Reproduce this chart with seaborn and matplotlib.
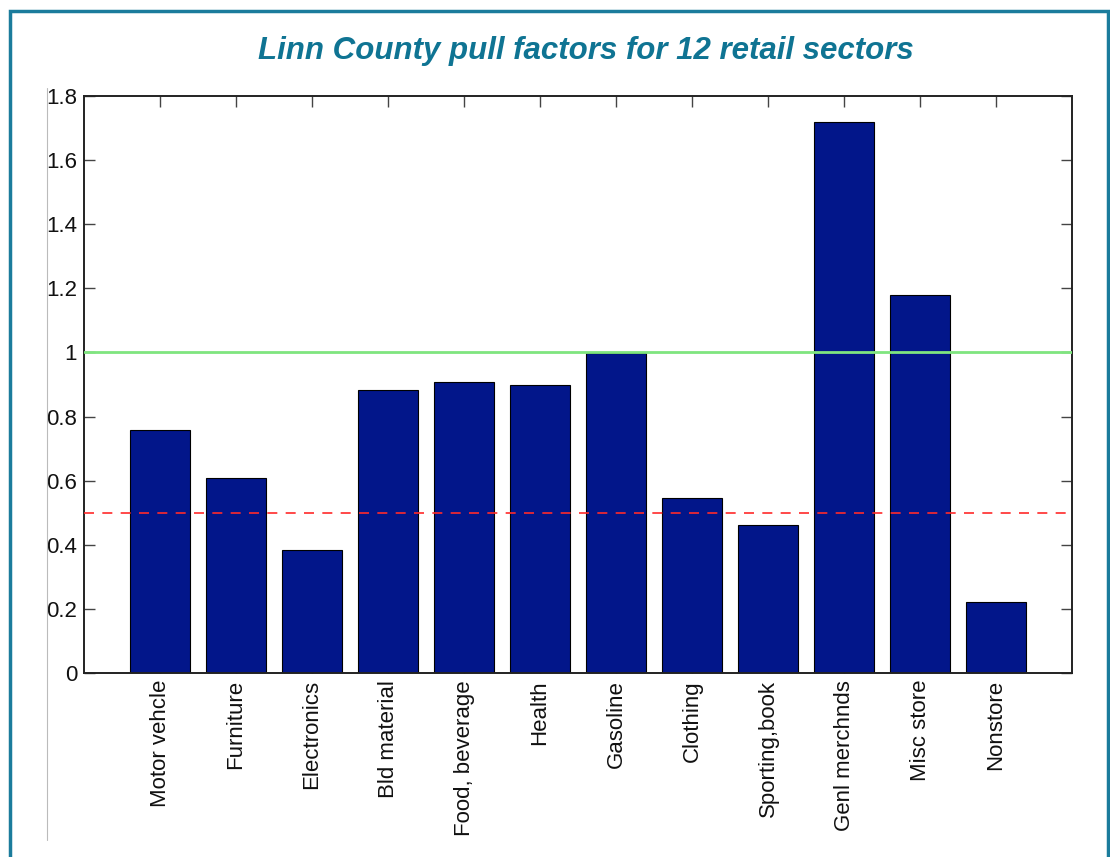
import matplotlib
matplotlib.use("Agg")
import matplotlib.pyplot as plt
import seaborn as sns
import pandas as pd
from matplotlib.patches import Rectangle
from matplotlib.lines import Line2D
from matplotlib import font_manager

# Data
sectors = ["Motor vehcle", "Furniture", "Electronics", "Bld material", "Food, beverage",
           "Health", "Gasoline", "Clothing", "Sporting,book", "Genl merchnds",
           "Misc store", "Nonstore"]
pull_factors = [0.758, 0.608, 0.384, 0.883, 0.908, 0.898, 0.998, 0.546, 0.462, 1.719,
                1.179, 0.221]
y_ticks = [0, 0.2, 0.4, 0.6, 0.8, 1, 1.2, 1.4, 1.6, 1.8]
y_tick_labels = ["0", "0.2", "0.4", "0.6", "0.8", "1", "1.2", "1.4", "1.6", "1.8"]
good_line = 1.0
weak_line = 0.5

sns.set_style("white")
plt.rcParams['font.family'] = ['Liberation Sans', 'DejaVu Sans']

names = {f.name for f in font_manager.fontManager.ttflist}
title_font = 'Liberation Sans Narrow' if 'Liberation Sans Narrow' in names else 'Liberation Sans'
title_size = 27 if title_font == 'Liberation Sans Narrow' else 22.5

df = pd.DataFrame({'Sector': sectors, 'Pull': pull_factors})

fig = plt.figure(figsize=(11.1, 8.57), dpi=100)
ax = fig.add_axes([0.0757, 0.2147, 0.8901, 0.6733])

sns.barplot(data=df, x='Sector', y='Pull', color='#02168A', saturation=1,
            width=0.8, edgecolor='black', linewidth=0.8, ax=ax, zorder=2)

ax.axhline(good_line, color='#7FE57F', linewidth=2, zorder=3)
ax.axhline(weak_line, color='#FF2A2A', linewidth=1.2, linestyle=(0, (6, 5)), zorder=3)

ax.set_xlim(-1, 12)
ax.set_ylim(0, 1.8)
ax.set_yticks(y_ticks)
ax.set_yticklabels(y_tick_labels, fontsize=16)
ax.set_xticks(range(len(sectors)))
ax.set_xticklabels(sectors, rotation=90, fontsize=16)
ax.set_xlabel("")
ax.set_ylabel("")
ax.tick_params(direction='in', length=8, width=1, colors='#444444', labelcolor='#111111',
               top=True, right=True, bottom=True, left=True, pad=5)
for s in ax.spines.values():
    s.set_visible(True)
    s.set_color('#222222')
    s.set_linewidth(1.4)

fig.text(0.528, 0.941, "Linn County pull factors for 12 retail sectors", ha='center', va='center',
         fontsize=title_size, fontweight='bold', fontstyle='italic', color='#0F7493',
         family=title_font)

# teal frame and thin gray guide line
fig.patches.append(Rectangle((10 / 1110, -0.05), 1098 / 1110, 1 - 11 / 857 + 0.05,
                             transform=fig.transFigure, fill=False,
                             edgecolor='#1B7C9C', linewidth=2.5))
fig.lines.append(Line2D([47 / 1110, 47 / 1110], [1 - 88 / 857, 1 - 840 / 857],
                        transform=fig.transFigure, color='#BBBBBB', linewidth=0.8))

fig.savefig("out.png", dpi=100, facecolor='white')
